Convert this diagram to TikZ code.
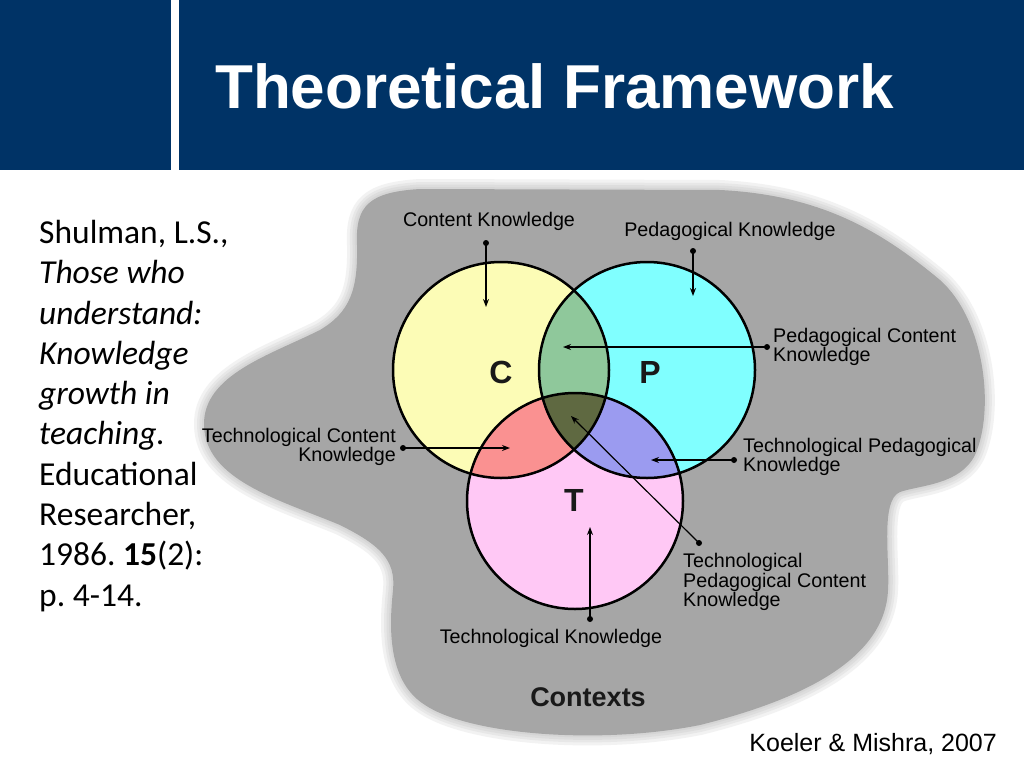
\documentclass[tikz,border=0pt]{standalone}
\usepackage{fontspec}
\setmainfont{Liberation Sans}
\newfontfamily\calib{Carlito}
\usetikzlibrary{arrows.meta}
\definecolor{hdr}{RGB}{0,51,102}
\definecolor{blobc}{RGB}{166,166,166}
\definecolor{cyel}{RGB}{252,252,182}
\definecolor{pcyan}{RGB}{128,255,255}
\definecolor{tpink}{RGB}{255,200,245}
\definecolor{cpgreen}{RGB}{143,200,155}
\definecolor{ctsalmon}{RGB}{250,145,145}
\definecolor{ptblue}{RGB}{155,155,240}
\definecolor{cptolive}{RGB}{95,105,65}
\frenchspacing
\begin{document}
\begin{tikzpicture}[x=1pt,y=-1pt,
  lbl/.style={font=\fontsize{19.7}{19.3}\selectfont, inner sep=0pt, text=black},
  conn/.style={line width=1.2pt, -{Stealth[length=8pt,width=6pt]}},
  dotc/.style={circle, fill=black, inner sep=0pt, minimum size=6pt},
  ring/.style={draw=black, line width=2.5pt},
  letter/.style={font=\fontsize{32}{32}\selectfont\bfseries, inner sep=0pt, text=black!90},
  bloblayer/.style={draw=blobc, line join=round, opacity=0.14}]
\useasboundingbox (0,0) rectangle (1024,768);
\fill[white] (0,0) rectangle (1024,768);
% header
\fill[hdr] (0,0) rectangle (171,170);
\fill[hdr] (179,0) rectangle (1024,170);
\node[anchor=base west, inner sep=0pt, text=white, font=\fontsize{62}{62}\selectfont\bfseries] (title) at (215,108) {Theoretical Framework};
% contexts blob
\def\blobpath{(357,245) .. controls (355,205) and (370,192) .. (420,189)
  -- (720,190) .. controls (820,195) and (880,230) .. (940,280)
  .. controls (985,320) and (995,410) .. (975,455)
  .. controls (960,485) and (920,485) .. (900,492)
  .. controls (880,500) and (890,560) .. (888,590)
  .. controls (885,660) and (800,700) .. (700,725)
  .. controls (600,745) and (470,735) .. (425,705)
  .. controls (385,680) and (390,620) .. (393,590)
  .. controls (396,560) and (380,545) .. (340,525)
  .. controls (280,500) and (205,480) .. (204,425)
  .. controls (203,375) and (270,355) .. (320,330)
  .. controls (350,312) and (358,290) .. (357,245) -- cycle}
\draw[bloblayer, line width=20pt] \blobpath;
\draw[bloblayer, line width=14pt] \blobpath;
\draw[bloblayer, line width=9pt] \blobpath;
\draw[bloblayer, line width=4pt] \blobpath;
\fill[blobc] \blobpath;
% circles
\coordinate (cc) at (501,370);
\coordinate (pc) at (647,370);
\coordinate (tc) at (575,501);
\fill[cyel] (cc) circle[radius=108pt];
\fill[pcyan] (pc) circle[radius=108pt];
\fill[tpink] (tc) circle[radius=108pt];
\begin{scope}
  \clip (cc) circle[radius=108pt];
  \fill[cpgreen] (pc) circle[radius=108pt];
  \fill[ctsalmon] (tc) circle[radius=108pt];
  \clip (pc) circle[radius=108pt];
  \fill[cptolive] (tc) circle[radius=108pt];
\end{scope}
\begin{scope}
  \clip (pc) circle[radius=108pt];
  \clip (tc) circle[radius=108pt];
  \fill[ptblue] (pc) circle[radius=108pt];
  \clip (cc) circle[radius=108pt];
  \fill[cptolive] (tc) circle[radius=108pt];
\end{scope}
\draw[ring] (cc) circle[radius=108pt];
\draw[ring] (pc) circle[radius=108pt];
\draw[ring] (tc) circle[radius=108pt];
\node[letter] (lc) at (501,372) {C};
\node[letter] (lp) at (650,372) {P};
\node[letter] (lt) at (574,500) {T};
% labels
\node[lbl] (lCK) at (489,221) {Content Knowledge};
\node[lbl] (lPK) at (730,231) {Pedagogical Knowledge};
\node[lbl, anchor=west, align=left] (lPCK) at (773,347) {Pedagogical Content\\Knowledge};
\node[lbl, anchor=east, align=right] (lTCK) at (396,447) {Technological Content\\Knowledge};
\node[lbl, anchor=west, align=left] (lTPK) at (743,457) {Technological Pedagogical\\Knowledge};
\node[lbl, anchor=west, align=left] (lTPCK) at (683,582) {Technological\\Pedagogical Content\\Knowledge};
\node[lbl] (lTK) at (551,638) {Technological Knowledge};
\node[inner sep=0pt, text=black!90, font=\fontsize{27}{27}\selectfont\bfseries] (ctx) at (588,697) {Contexts};
% connectors
\node[dotc] (dCK) at (486,243) {};
\coordinate (tCK) at (486,307);
\node[dotc] (dPK) at (693,251) {};
\coordinate (tPK) at (693,296);
\node[dotc] (dPCK) at (767,347) {};
\coordinate (tPCK) at (563,347);
\node[dotc] (dTCK) at (403,448) {};
\coordinate (tTCK) at (510,448);
\node[dotc] (dTPK) at (734,460) {};
\coordinate (tTPK) at (651,460);
\node[dotc] (dTPCK) at (699,543) {};
\coordinate (tTPCK) at (571,416);
\node[dotc] (dTK) at (590,619) {};
\coordinate (tTK) at (590,527);
\draw[conn] (dCK.center) -- (tCK);
\draw[conn] (dPK.center) -- (tPK);
\draw[conn] (dPCK.center) -- (tPCK);
\draw[conn] (dTCK.center) -- (tTCK);
\draw[conn] (dTPK.center) -- (tTPK);
\draw[conn] (dTPCK.center) -- (tTPCK);
\draw[conn] (dTK.center) -- (tTK);
% citation
\node[anchor=north west, inner sep=0pt, align=left, font=\calib\fontsize{33.5}{40.3}\selectfont] (cite) at (39,220) {Shulman, L.S.,\\\textit{Those who}\\\textit{understand:}\\\textit{Knowledge}\\\textit{growth in}\\\textit{teaching.}\\Educational\\Researcher,\\1986. \textbf{15}(2):\\p. 4-14.};
\node[anchor=base east, inner sep=0pt, font=\fontsize{25}{25}\selectfont] (src) at (997,751) {Koeler \& Mishra, 2007};
\end{tikzpicture}
\end{document}
